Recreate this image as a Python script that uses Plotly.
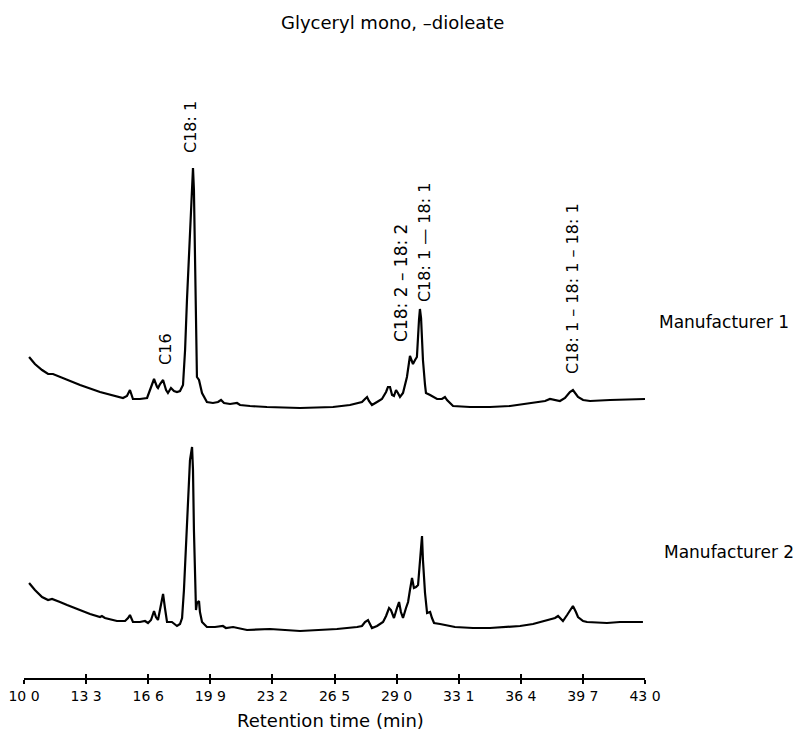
import plotly.graph_objects as go

# Retention times (min) and detector response (arbitrary units)
time_m1 = [10.27, 10.58, 10.96, 11.28, 11.54, 11.91, 12.29, 12.98, 14.04, 14.84, 15.26, 15.47, 15.63, 15.79,
           16.16, 16.54, 16.70, 16.91, 17.07, 17.12, 17.23, 17.39, 17.55, 17.65, 17.81, 17.97, 18.13, 18.29,
           18.45, 18.56, 18.66, 18.77, 18.87, 18.98, 19.03, 19.09, 19.14, 19.19, 19.30, 19.35, 19.46, 19.72,
           20.04, 20.31, 20.47, 20.63, 20.95, 21.32, 21.48, 22.01, 22.91, 24.67, 26.42, 27.32, 27.70, 27.96,
           28.12, 28.23, 28.33, 28.49, 28.76, 29.02, 29.24, 29.34, 29.45, 29.56, 29.66, 29.77, 29.87, 29.98,
           30.14, 30.25, 30.35, 30.51, 30.62, 30.67, 30.78, 30.88, 30.99, 31.04, 31.10, 31.20, 31.31, 31.36,
           31.58, 31.95, 32.21, 32.37, 32.48, 32.80, 33.70, 34.76, 35.83, 37.05, 37.69, 37.95, 38.22, 38.48,
           38.75, 39.01, 39.17, 39.33, 39.44, 39.71, 40.08, 41.14, 42.73, 43.00]
resp_m1 = [51, 44, 38, 34, 34, 31, 28, 23, 16, 12, 10, 12, 18, 9,
           9, 10, 18, 29, 21, 20, 24, 28, 18, 15, 20, 17, 16, 17,
           23, 58, 108, 158, 203, 240, 218, 158, 78, 31, 28, 23, 15, 6,
           5, 6, 8, 5, 4, 5, 3, 2, 1, 0, 1, 3, 5, 6,
           9, 11, 7, 3, 6, 9, 16, 21, 21, 13, 12, 18, 15, 11,
           15, 22, 31, 52, 46, 44, 48, 51, 88, 99, 90, 48, 23, 15,
           13, 9, 9, 11, 8, 2, 1, 1, 2, 5, 7, 9, 8, 7,
           10, 16, 18, 14, 11, 8, 7, 8, 9, 9]

time_m2 = [10.27, 10.58, 10.96, 11.28, 11.49, 11.65, 11.91, 12.29, 12.98, 13.51, 14.04, 14.14, 14.30, 14.94,
           15.37, 15.53, 15.63, 15.79, 16.16, 16.43, 16.59, 16.75, 16.91, 17.01, 17.12, 17.23, 17.39, 17.49,
           17.60, 17.86, 18.02, 18.13, 18.29, 18.40, 18.50, 18.61, 18.72, 18.82, 18.93, 18.98, 19.03, 19.09,
           19.14, 19.19, 19.30, 19.35, 19.46, 19.72, 20.15, 20.57, 20.73, 21.11, 21.85, 23.07, 24.67, 26.63,
           27.32, 27.70, 27.96, 28.12, 28.28, 28.39, 28.49, 28.76, 29.08, 29.24, 29.40, 29.50, 29.66, 29.82,
           29.93, 30.03, 30.14, 30.30, 30.41, 30.51, 30.62, 30.72, 30.83, 30.94, 31.04, 31.15, 31.20, 31.31,
           31.42, 31.52, 31.58, 31.68, 31.79, 32.11, 32.48, 32.64, 32.90, 33.86, 34.76, 35.67, 36.36, 37.05,
           37.69, 37.95, 38.22, 38.38, 38.48, 38.64, 38.86, 39.01, 39.17, 39.33, 39.44, 39.71, 39.92, 40.98,
           41.67, 42.89]
resp_m2 = [48, 41, 34, 31, 32, 31, 29, 26, 21, 17, 14, 15, 13, 10,
           10, 13, 16, 9, 9, 10, 8, 11, 20, 14, 11, 21, 37, 23,
           9, 9, 7, 5, 7, 13, 41, 91, 141, 171, 184, 161, 101, 41,
           21, 28, 30, 19, 9, 4, 4, 5, 3, 4, 1, 2, 0, 2,
           3, 4, 5, 9, 11, 6, 3, 5, 9, 15, 23, 21, 13, 23,
           29, 19, 13, 23, 29, 41, 53, 43, 44, 46, 71, 95, 71, 38,
           18, 19, 19, 13, 8, 7, 6, 5, 4, 3, 3, 4, 5, 7,
           10, 11, 13, 15, 13, 10, 16, 21, 25, 19, 14, 10, 9, 8,
           9, 9]

# vertical stacking of the two chromatograms
offset_m1 = 270
offset_m2 = 47

tick_vals = [10.0, 13.3, 16.6, 19.9, 23.2, 26.5, 29.8, 33.1, 36.4, 39.7, 43.0]
tick_text = ["10 0", "13 3", "16 6", "19 9", "23 2", "26 5", "29 0", "33 1", "36 4", "39 7", "43 0"]

peak_labels = ["C16", "C18: 1", "C18: 2 – 18: 2", "C18: 1 — 18: 1", "C18: 1 – 18: 1 – 18: 1"]
peak_times = [17.49, 18.82, 30.03, 31.26, 39.12]
peak_label_y = [329, 551, 395, 435, 390]
peak_label_size = [16, 16, 17, 16, 16]

series_names = ["Manufacturer 1", "Manufacturer 2"]
title_text = "Glyceryl mono, –dioleate"
x_title = "Retention time (min)"

FONT = "DejaVu Sans"

fig = go.Figure()
fig.add_trace(go.Scatter(x=time_m1, y=[r + offset_m1 for r in resp_m1], mode="lines",
                         line=dict(color="black", width=2.2), showlegend=False, hoverinfo="skip"))
fig.add_trace(go.Scatter(x=time_m2, y=[r + offset_m2 for r in resp_m2], mode="lines",
                         line=dict(color="black", width=2.2), showlegend=False, hoverinfo="skip"))
# invisible trace on the overlay axis so its inside ticks are drawn
fig.add_trace(go.Scatter(x=[10, 43], y=[0, 0], xaxis="x2", mode="lines",
                         line=dict(width=0), showlegend=False, hoverinfo="skip"))

for lab, t, yy, fs in zip(peak_labels, peak_times, peak_label_y, peak_label_size):
    fig.add_annotation(x=t, y=yy, xref="x", yref="y", text=lab, textangle=-90,
                       showarrow=False, font=dict(family=FONT, size=fs, color="black"))

fig.add_annotation(x=1.0193, y=0.525, xref="paper", yref="paper", text=series_names[0],
                   xanchor="left", yanchor="middle", showarrow=False,
                   font=dict(family=FONT, size=17, color="black"))
fig.add_annotation(x=1.0274, y=0.1858, xref="paper", yref="paper", text=series_names[1],
                   xanchor="left", yanchor="middle", showarrow=False,
                   font=dict(family=FONT, size=17, color="black"))
fig.add_annotation(x=0.5926, y=0.9661, xref="paper", yref="paper", text=title_text,
                   xanchor="center", yanchor="middle", showarrow=False,
                   font=dict(family=FONT, size=18, color="black"))
fig.add_annotation(x=0.4928, y=-0.0634, xref="paper", yref="paper", text=x_title,
                   xanchor="center", yanchor="middle", showarrow=False,
                   font=dict(family=FONT, size=18, color="black"))

fig.update_layout(
    width=795, height=731,
    margin=dict(l=24, r=150, t=0, b=53),
    paper_bgcolor="white", plot_bgcolor="white",
    xaxis=dict(range=[10, 43], showgrid=False, zeroline=False, showline=True, linecolor="black",
               linewidth=2, ticks="outside", ticklen=4, tickwidth=1.5, tickcolor="black",
               tickvals=tick_vals, ticktext=tick_text,
               tickfont=dict(family=FONT, size=14, color="black")),
    xaxis2=dict(range=[10, 43], overlaying="x", side="bottom", showgrid=False, zeroline=False,
                showline=False, ticks="inside", ticklen=4, tickwidth=1.5, tickcolor="black",
                tickvals=tick_vals, showticklabels=False),
    yaxis=dict(range=[0, 678], visible=False, showgrid=False, zeroline=False),
)

fig.write_html("out.html")
